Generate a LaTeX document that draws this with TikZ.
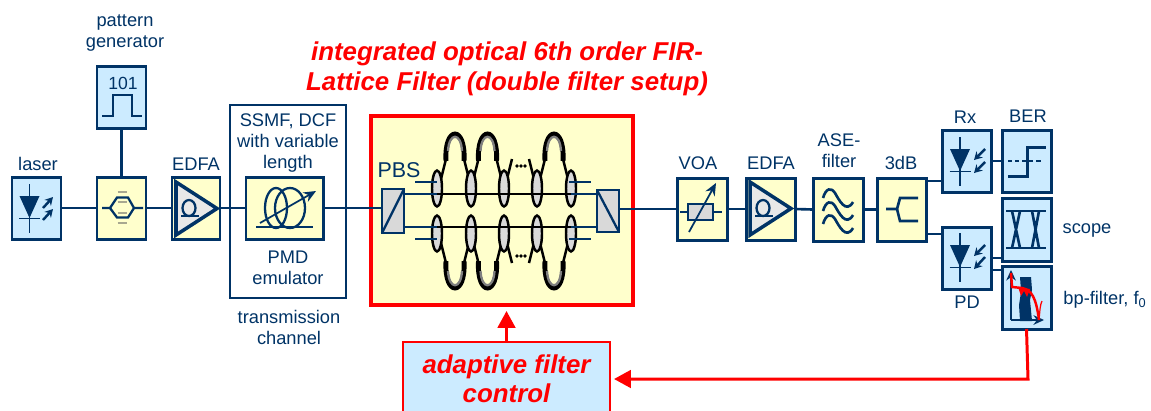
\documentclass[tikz,border=0pt]{standalone}
\usepackage{fontspec}
\setmainfont{Liberation Sans}
\usetikzlibrary{arrows.meta,calc}
\definecolor{navy}{HTML}{003366}
\definecolor{lyellow}{HTML}{FFFFCC}
\definecolor{lblue}{HTML}{CCEBFF}
\definecolor{lgrey}{HTML}{D9D9D9}
\definecolor{mgrey}{HTML}{A8A890}
\tikzset{
  ybox/.style={draw=navy,fill=lyellow,line width=1.7pt,inner sep=0pt,outer sep=0pt},
  bbox/.style={draw=navy,fill=lblue,line width=1.7pt,inner sep=0pt,outer sep=0pt},
  chanbox/.style={draw=navy,line width=0.9pt,inner sep=0pt,outer sep=0pt},
  redbox/.style={draw=red,fill=lyellow,line width=1.8pt,inner sep=0pt,outer sep=0pt},
  ctrlbox/.style={draw=red,fill=lblue,line width=1pt,inner sep=0pt,outer sep=0pt,
    font=\fontsize{14.7}{16.6}\selectfont\bfseries\itshape,text=red,align=center},
  lbl/.style={text=navy,font=\fontsize{10.4}{12}\selectfont,align=center,inner sep=0pt},
  title/.style={text=red,font=\fontsize{14.7}{17}\selectfont\bfseries\itshape,align=center,inner sep=0pt},
  wire/.style={draw=navy,line width=1.2pt},
  wirethin/.style={draw=navy,line width=1.1pt},
  wirethick/.style={draw=navy,line width=1.5pt},
  icon/.style={draw=navy,line width=1.3pt},
  iconthin/.style={draw=navy,line width=0.9pt},
  redline/.style={draw=red,line width=1.7pt},
  redtip/.style={-{Triangle[length=9.6pt,width=10pt]}},
  guide/.style={draw=black,line width=1.4pt},
  coupler/.style={draw=black,fill=lgrey,line width=1.4pt},
  smallarr/.style={draw=navy,line width=1.4pt,-{Stealth[length=4.5pt,width=5pt]}},
}
\newcommand{\bx}[6]{\node[#6,minimum width={(#4-#2)*0.02cm},minimum height={(#5-#3)*0.02cm}] (#1) at ({(#2+#4)/2},{(#3+#5)/2}) {};}
\newcommand{\lb}[4]{\node[lbl] (#1) at (#2,#3) {#4};}
\newcommand{\latloop}[1]{%
  \draw[guide] (#1-14,-32) -- (#1-9,-52);
  \draw[guide] (#1+14,-32) -- (#1+9,-52);
  \draw[draw=black,line width=2.8pt] (#1-9,-50) .. controls (#1-11,-86) and (#1+11,-86) .. (#1+9,-50);
  \draw[draw=gray,line width=1.3pt] (#1-7,-60) .. controls (#1-6,-79) and (#1+6,-79) .. (#1+7,-60);
}
\newcommand{\lathalf}{%
  \latloop{455}\latloop{487.5}\latloop{554}
  \draw[guide] (507,-32) -- (512,-52);
  \draw[guide] (534,-32) -- (529,-52);
  \fill[black] (517,-45) circle (1.8) (521,-45) circle (1.8) (525,-45) circle (1.8);
  \foreach \cx in {437,471,504,537,571}{
    \draw[coupler] (\cx,-22.5) ellipse (5 and 18);
  }
}
\newcommand{\diode}[2]{%
  \draw[iconthin,line width=1pt] (#1,#2) -- (#1,#2+49);
  \fill[navy] (#1-10,#2+12) -- (#1+10,#2+12) -- (#1,#2+34) -- cycle;
  \draw[iconthin,line width=1pt] (#1-10.5,#2+34.5) -- (#1+10.5,#2+34.5);
}
\newcommand{\ampl}[1]{%
  \draw[draw=navy,fill=lgrey!60,line width=2pt,line join=miter] (#1,182) -- (#1,235) -- (#1+41,208.5) -- cycle;
  \draw[icon] (#1+13,208) ellipse (6.5 and 8);
  \draw[icon] (#1+5,216) -- (#1+23,216);
}
\begin{document}
\begin{tikzpicture}[x=0.02cm,y=-0.02cm]
\useasboundingbox (0,0) rectangle (1151,410);
\clip (0,0) rectangle (1151,410);

% title
\node[title] (ttl) at (507,69) {integrated optical 6th order FIR-\\Lattice Filter (double filter setup)};

% boxes
\bx{chan}{230}{105}{346}{298}{chanbox}
\bx{laser}{12}{177}{61}{239}{bbox}
\bx{mod}{97}{177}{146}{239}{ybox}
\bx{pat}{97}{66}{146}{128}{bbox}
\bx{edfa}{172}{177}{220}{239}{ybox}
\bx{pmd}{246}{177}{323}{239}{ybox}
\bx{filt}{371}{116}{633}{305}{redbox}
\bx{pbsl}{382}{189}{404}{233}{draw=navy,fill=lgrey,line width=1.4pt,inner sep=0pt,outer sep=0pt}
\bx{pbsr}{597}{190}{619}{232}{draw=navy,fill=lgrey,line width=1.4pt,inner sep=0pt,outer sep=0pt}
\bx{voa}{677}{178}{727}{240}{ybox}
\bx{edfb}{746}{178}{795}{240}{ybox}
\bx{ase}{813}{178}{863}{241}{ybox}
\bx{tdb}{877}{178}{926}{241}{ybox}
\bx{rx}{942}{130}{991}{192}{bbox}
\bx{ber}{1002}{130}{1051}{192}{bbox}
\bx{scp}{1002}{198}{1051}{261}{bbox}
\bx{pd}{942}{227}{991}{289}{bbox}
\bx{bp}{1002}{266}{1051}{329}{bbox}
\node[ctrlbox,minimum width={207*0.02cm},minimum height={74*0.02cm}] (ctrl) at (506.5,379) {adaptive filter\\control};

% connectors
\draw[wire] (pat.south) -- (mod.north);
\draw[wirethin] (laser.east) -- (mod.west);
\draw[wirethick] (mod.east) -- (edfa.west);
\draw[wirethick] (edfa.east) -- (pmd.west);
\draw[wirethick] (pmd.east) -- (pmd.east -| pbsl.west);
\draw[wirethick] (voa.west -| pbsr.east) -- (voa.west);
\draw[wirethick] (voa.east) -- (edfb.west);
\draw[wirethick] (edfb.east) -- (ase.west);
\draw[wirethick] (ase.east) -- (tdb.west);
\draw[wire] ([yshift=-0.4cm]rx.west) -- ([yshift=-0.4cm]rx.west -| tdb.east);
\draw[wire] ([yshift=0.48cm]pd.west) -- ([yshift=0.48cm]pd.west -| tdb.east);
\draw[wire] (rx.east) -- (ber.west);
\draw[wire] (pd.east) -- (pd.east -| scp.west);
\draw[wire] ([yshift=-0.24cm]pd.east) -- ([yshift=-0.24cm]pd.east -| bp.west);
\draw[redline,redtip,shorten >=0.12cm] (ctrl.north) -- (ctrl.north |- filt.south);
\coordinate (corner) at (1028,379);
\draw[redline,redtip,shorten >=0.08cm] (bp.south) -- (corner) -- (ctrl.east);

% laser icon
\diode{29.5}{184}
\draw[smallarr] (43,208) -- (53,197);
\draw[smallarr] (43,220) -- (53,209);

% modulator icon
\draw[icon] (102,208) -- (110,208) -- (117,197.5) -- (128,197.5) -- (134,208) -- (143,208);
\draw[icon] (110,208) -- (117,217.5) -- (128,217.5) -- (134,208);
\foreach \yy in {192,202,213,223}{\draw[draw=mgrey,line width=1.1pt] (117.5,\yy) -- (127,\yy);}

% pattern generator icon
\node[text=navy,font=\fontsize{10}{12}\selectfont,inner sep=0pt] (pat101) at (123,83) {101};
\draw[icon] (102,116) -- (113,116) -- (113,95) -- (132,95) -- (132,116) -- (142,116);

% amplifiers
\ampl{176}
\ampl{750}

% PMD icon
\draw[icon,line width=1.5pt] (256,227) -- (313,227);
\draw[icon] (276,208) ellipse (11 and 20);
\draw[icon] (290,208) ellipse (15 and 20);
\draw[iconthin,line width=1pt,-{Stealth[length=7pt,width=6pt]}] (260,223) -- (316,191);

% PBS details
\draw[icon] (pbsl.south west) -- (pbsl.north east);
\draw[icon] (pbsr.north west) -- (pbsr.south east);

% lattice
\begin{scope}[shift={(0,211)}]
\lathalf
\end{scope}
\begin{scope}[shift={(0,211)},yscale=-1]
\lathalf
\end{scope}
\draw[guide,line width=1.6pt] (437,194) -- (571,194);
\draw[guide,line width=1.6pt] (437,227) -- (571,227);
\draw[wire,line width=1.5pt] (pbsl.east |- 0,194) -- (437,194);
\draw[wire,line width=1.5pt] (pbsl.east |- 0,227) -- (437,227);
\draw[wire,line width=1.5pt] (571,194) -- (pbsr.west |- 0,194);
\draw[wire,line width=1.5pt] (571,227) -- (pbsr.west |- 0,227);
\draw[wire] (415,182) -- (437,182);
\draw[wire] (415,239) -- (437,239);
\draw[wire] (569,182) -- (591,182);
\draw[wire] (569,239) -- (591,239);

% VOA icon
\draw[iconthin] (680,212) -- (722,212);
\draw[draw=navy,fill=lgrey,line width=0.9pt] (688,204) rectangle (713,220);
\draw[iconthin,line width=1pt,-{Stealth[length=7pt,width=6pt]}] (689,232) -- (716,183);

% ASE icon
\foreach \dy in {0,13,26}{
  \draw[icon,line width=1.5pt] (823,198+\dy) .. controls (826,188+\dy) and (831,187+\dy) .. (835,193+\dy)
     .. controls (839,200+\dy) and (846,214+\dy) .. (853,202+\dy);
}

% 3dB icon
\draw[icon,line width=1.5pt] (886,209) -- (897,209) -- (900,198) -- (918,198);
\draw[icon,line width=1.5pt] (897,209) -- (900,221) -- (918,221);

% receivers
\diode{960}{137}
\draw[smallarr] (985,149) -- (974,160);
\draw[smallarr] (985,162) -- (974,173);
\diode{960}{233}
\draw[smallarr] (985,245) -- (974,256);
\draw[smallarr] (985,257) -- (974,269);

% BER icon
\draw[icon,line width=1.7pt] (1008,176) -- (1027,176) -- (1027,147) -- (1046,147);
\draw[iconthin,dash pattern=on 2.5pt off 1.5pt] (1008,161) -- (1042,161);

% scope icon
\draw[icon] (1006,211) -- (1046,211);
\draw[icon] (1006,248) -- (1046,248);
\draw[icon,line width=1.5pt] (1012,211) -- (1020,248) (1020,211) -- (1012,248);
\draw[icon,line width=1.5pt] (1032,211) -- (1039,248) (1039,211) -- (1032,248);

% bp-filter icon
\fill[navy] (1020,277) -- (1031,277) -- (1032,290) -- (1030,300) -- (1032,321) -- (1020,321) -- (1019,305) -- (1021,292) -- cycle;
\draw[draw=navy,line width=0.8pt,-{Stealth[length=6pt,width=5.5pt]}] (1011,320) -- (1011,270);
\draw[draw=navy,line width=0.8pt,-{Stealth[length=6pt,width=5.5pt]}] (1011,320) -- (1044,320);
\draw[draw=red,line width=1.4pt] (1011,273) -- (1012,287) -- (1022,288) .. controls (1032,290) and (1036,298) .. (1039,320);
\draw[draw=red,line width=0.7pt] (1039,320) .. controls (1040,310) and (1040,305) .. (1042,301);
\fill[red] (1018,287) -- (1030,289) -- (1027,297) -- (1024,291) -- (1021,296) -- cycle;

% labels
\lb{tlaser}{38}{164}{laser}
\lb{tpat}{125}{33}{pattern\\generator}
\lb{tedfa}{196}{164}{EDFA}
\lb{tssmf}{288}{143}{SSMF, DCF\\with variable\\length}
\lb{tpmd}{288}{268}{PMD\\emulator}
\lb{ttrans}{289}{327.5}{transmission\\channel}
\node[lbl,font=\fontsize{12.2}{14}\selectfont] (tpbs) at (399,170) {PBS};
\lb{tvoa}{698}{163}{VOA}
\lb{tedfb}{771}{163}{EDFA}
\lb{tase}{839}{150.5}{ASE-\\filter}
\lb{ttdb}{901}{163}{3dB}
\lb{trx}{965}{117}{Rx}
\lb{tber}{1028}{116}{BER}
\lb{tscope}{1087}{230}{scope}
\lb{tbp}{1105}{300}{bp-filter, f\textsubscript{0}}
\lb{tpd}{967}{302}{PD}
\end{tikzpicture}
\end{document}
